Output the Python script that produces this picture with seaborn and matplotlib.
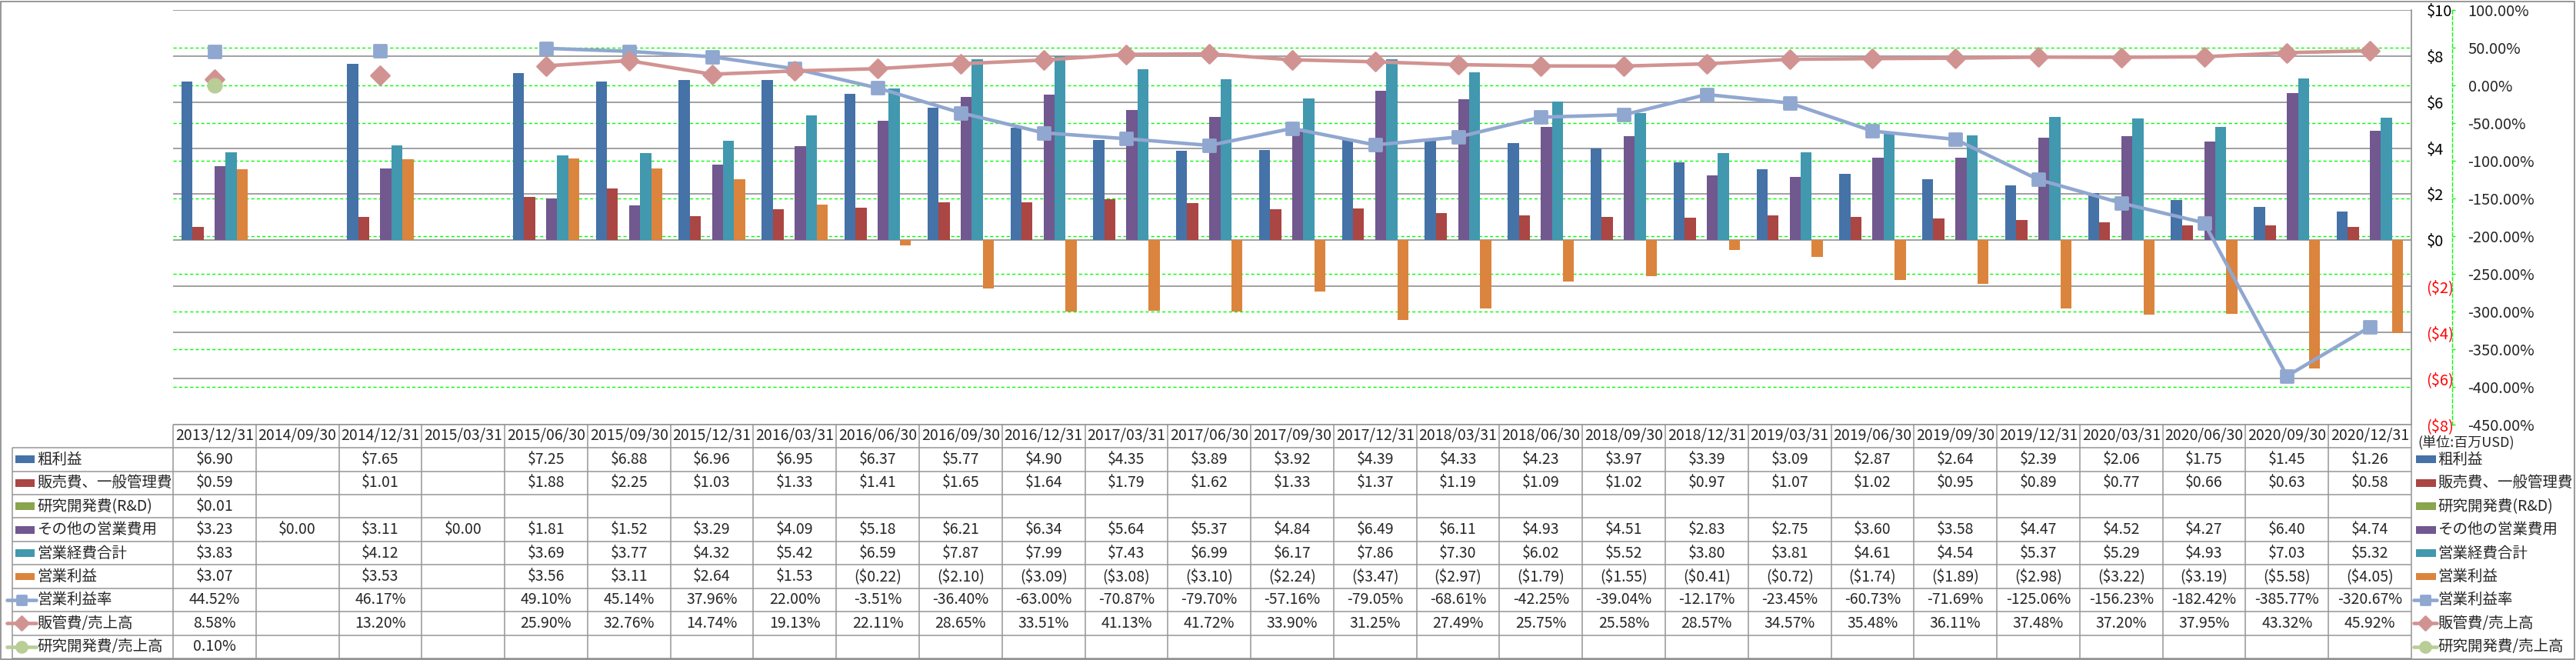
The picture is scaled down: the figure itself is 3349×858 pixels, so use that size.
import numpy as np
import pandas as pd
import matplotlib
matplotlib.use("Agg")
import matplotlib.pyplot as plt
from matplotlib.patches import Rectangle
from matplotlib.markers import MarkerStyle
import seaborn as sns

nan = np.nan

# ── Data (百万USD / %) ─────────────────────────────────────────────────────────
dates = ["2013/12/31", "2014/09/30", "2014/12/31", "2015/03/31", "2015/06/30",
         "2015/09/30", "2015/12/31", "2016/03/31", "2016/06/30", "2016/09/30",
         "2016/12/31", "2017/03/31", "2017/06/30", "2017/09/30", "2017/12/31",
         "2018/03/31", "2018/06/30", "2018/09/30", "2018/12/31", "2019/03/31",
         "2019/06/30", "2019/09/30", "2019/12/31", "2020/03/31", "2020/06/30",
         "2020/09/30", "2020/12/31"]

gross_profit = [6.90, nan, 7.65, nan, 7.25, 6.88, 6.96, 6.95, 6.37, 5.77, 4.90, 4.35, 3.89, 3.92,
                4.39, 4.33, 4.23, 3.97, 3.39, 3.09, 2.87, 2.64, 2.39, 2.06, 1.75, 1.45, 1.26]
sga = [0.59, nan, 1.01, nan, 1.88, 2.25, 1.03, 1.33, 1.41, 1.65, 1.64, 1.79, 1.62, 1.33,
       1.37, 1.19, 1.09, 1.02, 0.97, 1.07, 1.02, 0.95, 0.89, 0.77, 0.66, 0.63, 0.58]
rnd = [0.01] + [nan] * 26
other_opex = [3.23, 0.00, 3.11, 0.00, 1.81, 1.52, 3.29, 4.09, 5.18, 6.21, 6.34, 5.64, 5.37, 4.84,
              6.49, 6.11, 4.93, 4.51, 2.83, 2.75, 3.60, 3.58, 4.47, 4.52, 4.27, 6.40, 4.74]
total_opex = [3.83, nan, 4.12, nan, 3.69, 3.77, 4.32, 5.42, 6.59, 7.87, 7.99, 7.43, 6.99, 6.17,
              7.86, 7.30, 6.02, 5.52, 3.80, 3.81, 4.61, 4.54, 5.37, 5.29, 4.93, 7.03, 5.32]
op_income = [3.07, nan, 3.53, nan, 3.56, 3.11, 2.64, 1.53, -0.22, -2.10, -3.09, -3.08, -3.10, -2.24,
             -3.47, -2.97, -1.79, -1.55, -0.41, -0.72, -1.74, -1.89, -2.98, -3.22, -3.19, -5.58, -4.05]
op_margin = [44.52, nan, 46.17, nan, 49.10, 45.14, 37.96, 22.00, -3.51, -36.40, -63.00, -70.87,
             -79.70, -57.16, -79.05, -68.61, -42.25, -39.04, -12.17, -23.45, -60.73, -71.69,
             -125.06, -156.23, -182.42, -385.77, -320.67]
sga_ratio = [8.58, nan, 13.20, nan, 25.90, 32.76, 14.74, 19.13, 22.11, 28.65, 33.51, 41.13, 41.72,
             33.90, 31.25, 27.49, 25.75, 25.58, 28.57, 34.57, 35.48, 36.11, 37.48, 37.20, 37.95,
             43.32, 45.92]
rnd_ratio = [0.10] + [nan] * 26

bar_names = ["粗利益", "販売費、一般管理費", "研究開発費(R&D)", "その他の営業費用", "営業経費合計", "営業利益"]
line_names = ["営業利益率", "販管費/売上高", "研究開発費/売上高"]
money_ticks = [-8, -6, -4, -2, 0, 2, 4, 6, 8, 10]
pct_ticks = [-450, -400, -350, -300, -250, -200, -150, -100, -50, 0, 50, 100]

# ── Style ─────────────────────────────────────────────────────────────────────
BAR_COLORS = ["#4572A7", "#AA4643", "#89A54E", "#71588F", "#4198AF", "#DB843D"]
LINE_COLORS = ["#90A7D0", "#D19392", "#B9CD96"]
LINE_MARKERS = ["s", "D", "o"]
MARKER_SIZES = [11.5, 12.0, 12.5]
GRID_GREY = "#868686"
TABLE_GREY = "#969696"
FS = 14        # table / legend text
FS_TICK = 14.5

sns.set_style("white")
plt.rcParams["font.family"] = ["Noto Sans CJK JP", "DejaVu Sans"]
plt.rcParams["font.size"] = FS

W, H = 3349, 858
fig = plt.figure(figsize=(W / 100, H / 100), dpi=100)

PL, PR, PT, PB = 225, 3135, 13, 551.7      # plot area in pixels
TB = 856                                    # table bottom
ax = fig.add_axes([PL / W, (H - PB) / H, (PR - PL) / W, (PB - PT) / H])
ax2 = ax.twinx()

# ── Bars ──────────────────────────────────────────────────────────────────────
bar_series = [gross_profit, sga, rnd, other_opex, total_opex, op_income]
rows = []
for name, vals in zip(bar_names, bar_series):
    for d, v in zip(dates, vals):
        if not np.isnan(v):
            rows.append((d, name, v))
df = pd.DataFrame(rows, columns=["date", "series", "value"])

sns.barplot(data=df, x="date", y="value", hue="series", order=dates, hue_order=bar_names,
            palette=BAR_COLORS, saturation=1, errorbar=None, width=0.8, linewidth=0,
            legend=False, ax=ax)

ax.set_xlim(-0.5, len(dates) - 0.5)
ax.set_ylim(-8, 10)
ax.set_xticks([])
ax.set_xlabel("")
ax.set_ylabel("")
ax.yaxis.tick_right()
ax.set_yticks(money_ticks)
ax.set_yticklabels([f"${v}" if v >= 0 else f"(${-v})" for v in money_ticks])
for lab, v in zip(ax.get_yticklabels(), money_ticks):
    lab.set_color("red" if v < 0 else "black")
ax.tick_params(axis="y", which="both", length=0, pad=14, labelsize=FS_TICK)

# green grid follows the % axis
green_pos = [-8 + (v + 450) * 18 / 550 for v in pct_ticks[1:-1]]
ax.set_yticks(green_pos, minor=True)
ax.grid(axis="y", which="major", color=GRID_GREY, lw=1.1, ls="-")
ax.grid(axis="y", which="minor", color="#00FF00", lw=1.0, ls=(0, (3, 2.2)))
ax.grid(axis="x", visible=False)
ax.set_axisbelow(True)
for s in ["left", "top", "bottom"]:
    ax.spines[s].set_visible(False)
ax.spines["right"].set_color(GRID_GREY)
ax.spines["right"].set_linewidth(1.1)

# ── Lines on the % axis ───────────────────────────────────────────────────────
x = np.arange(len(dates))
for vals, col, mk, ms in zip([op_margin, sga_ratio, rnd_ratio], LINE_COLORS, LINE_MARKERS, MARKER_SIZES):
    ax2.plot(x, vals, color=col, lw=3.3, marker=MarkerStyle(mk, joinstyle="round"),
             ms=ms, mfc=col, mec=col, mew=2, solid_capstyle="round")

ax2.set_ylim(-450, 100)
ax2.set_yticks(pct_ticks)
ax2.set_yticklabels([f"{v:.2f}%" for v in pct_ticks])
for lab, v in zip(ax2.get_yticklabels(), pct_ticks):
    lab.set_color("red" if v < 0 else "black")
ax2.tick_params(axis="y", length=3, width=1, color="#00FF00", pad=12, labelsize=FS_TICK)
ax2.grid(False)
for s in ["left", "top", "bottom"]:
    ax2.spines[s].set_visible(False)
ax2.spines["right"].set_position(("outward", 38))
ax2.spines["right"].set_color("#00FF00")
ax2.spines["right"].set_linestyle((0, (3, 2.2)))
ax2.spines["right"].set_linewidth(1.0)

# ── Data table ────────────────────────────────────────────────────────────────
tax = fig.add_axes([PL / W, (H - TB) / H, (PR - PL) / W, (TB - PB) / H])
tax.set_xlim(-0.5, len(dates) - 0.5)
tax.set_ylim(10, 0)
tax.axis("off")

col_w = (PR - PL) / len(dates)


def px2x(px):
    return (px - PL) / col_w - 0.5


def money(v):
    if np.isnan(v):
        return ""
    return f"${v:.2f}" if v >= 0 else f"(${-v:.2f})"


def pct(v):
    return "" if np.isnan(v) else f"{v:.2f}%"


x_left = px2x(16)
n = len(dates)
line_kw = dict(color=TABLE_GREY, lw=1.1, clip_on=False, solid_capstyle="butt")
tax.plot([-0.5, n - 0.5], [0, 0], **line_kw)
for r in range(1, 11):
    tax.plot([x_left, n - 0.5], [r, r], **line_kw)
for k in range(n + 1):
    tax.plot([k - 0.5, k - 0.5], [0, 10], **line_kw)
tax.plot([x_left, x_left], [1, 10], **line_kw)

for i, d in enumerate(dates):
    tax.text(i, 0.5, d, ha="center", va="center", fontsize=FS)

table_vals = bar_series + [op_margin, sga_ratio, rnd_ratio]
for r, vals in enumerate(table_vals):
    fmt = money if r < 6 else pct
    for i, v in enumerate(vals):
        tax.text(i, r + 1.5, fmt(v), ha="center", va="center", fontsize=FS)


def draw_key(r, x0, x1, xt, label):
    yc = r + 1.5
    if r < 6:
        tax.add_patch(Rectangle((x0, yc - 0.16), x1 - x0, 0.32, color=BAR_COLORS[r],
                                lw=0, clip_on=False))
    else:
        j = r - 6
        tax.plot([x0, x1], [yc, yc], color=LINE_COLORS[j], lw=3.3, clip_on=False)
        tax.plot([(x0 + x1) / 2], [yc], marker=MarkerStyle(LINE_MARKERS[j], joinstyle="round"),
                 ms=MARKER_SIZES[j] * 0.8, mfc=LINE_COLORS[j], mec=LINE_COLORS[j], mew=2,
                 clip_on=False)
    tax.text(xt, yc, label, ha="left", va="center", fontsize=FS, clip_on=False)


all_names = bar_names + line_names
for r, name in enumerate(all_names):
    if r < 6:
        draw_key(r, px2x(20), px2x(45), px2x(48), name)
        draw_key(r, px2x(3141), px2x(3167), px2x(3169), name)
    else:
        draw_key(r, px2x(9), px2x(47), px2x(48), name)
        draw_key(r, px2x(3138), px2x(3168), px2x(3169), name)

tax.text(px2x(3143), (575 - PB) / ((TB - PB) / 10), "(単位:百万USD)", ha="left", va="center",
         fontsize=13, clip_on=False)

# outer chart border
fig.add_artist(Rectangle((0.0003, 0.001), 0.9991, 0.997, transform=fig.transFigure,
                         fill=False, ec=GRID_GREY, lw=1.2))

fig.savefig("out.png", dpi=100)
plt.close(fig)
